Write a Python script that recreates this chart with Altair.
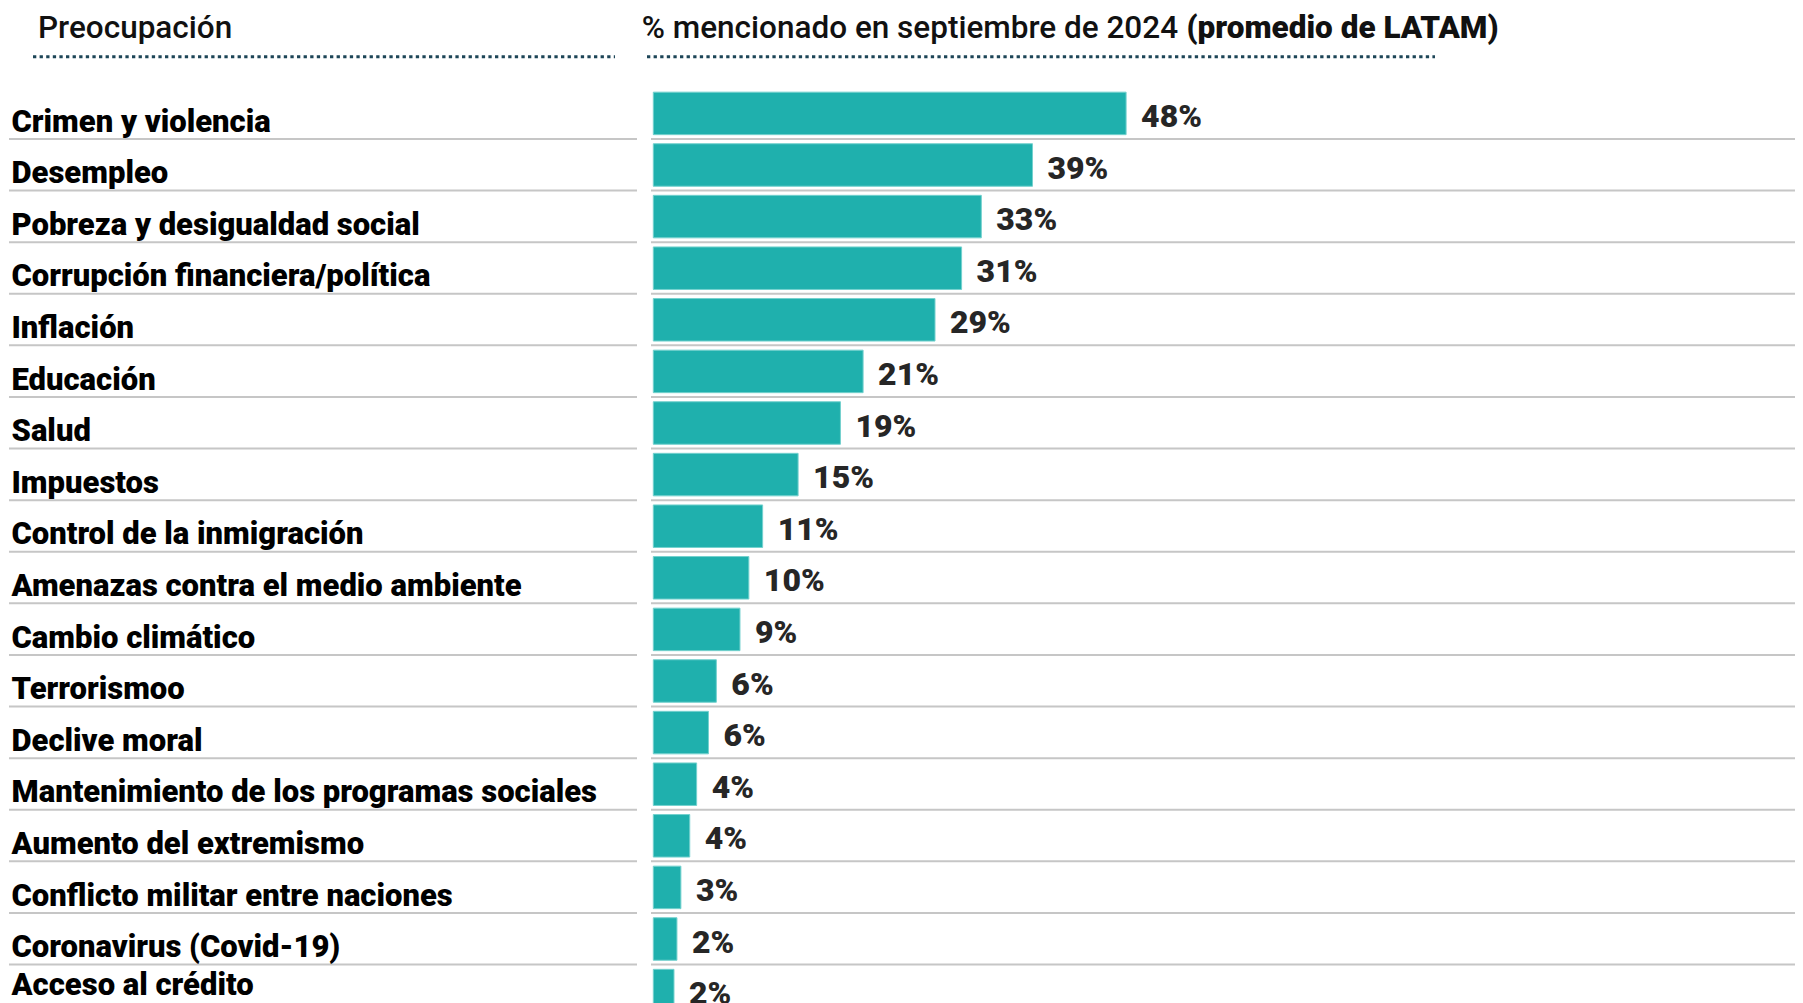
import altair as alt
import pandas as pd

categories = [
    "Crimen y violencia",
    "Desempleo",
    "Pobreza y desigualdad social",
    "Corrupción financiera/política",
    "Inflación",
    "Educación",
    "Salud",
    "Impuestos",
    "Control de la inmigración",
    "Amenazas contra el medio ambiente",
    "Cambio climático",
    "Terrorismoo",
    "Declive moral",
    "Mantenimiento de los programas sociales",
    "Aumento del extremismo",
    "Conflicto militar entre naciones",
    "Coronavirus (Covid-19)",
    "Acceso al crédito",
]
values = [48.0, 38.5, 33.3, 31.3, 28.6, 21.3, 19.0, 14.7, 11.1, 9.7, 8.8, 6.4, 5.6, 4.4, 3.7, 2.8, 2.4, 2.1]
value_labels = ["48%", "39%", "33%", "31%", "29%", "21%", "19%", "15%", "11%", "10%",
                "9%", "6%", "6%", "4%", "4%", "3%", "2%", "2%"]

header_left = ["Preocupación"]
header_right_regular = ["% mencionado en septiembre de 2024"]
header_right_bold = ["(promedio de LATAM)"]

df = pd.DataFrame({"cat": categories, "val": values, "lab": value_labels})
last_cat = categories[-1]

FONT = "Roboto"
STEP = 51.6
Y0 = 71.6
yscale = alt.Scale(domain=categories, range=[Y0, Y0 + STEP * len(categories)],
                   paddingInner=0.176, paddingOuter=0.088)
xscale = alt.Scale(domain=[0, 100], range=[645.3, 645.3 + 985])

base = alt.Chart(df)
ycat = alt.Y("cat:N", scale=yscale, axis=None, sort=categories)
ycat_end = alt.Y("cat:N", scale=yscale, axis=None, sort=categories, bandPosition=1)

bars = base.mark_bar(color="#1fb0ad", stroke="#74d1ce", strokeWidth=1, clip=True).encode(
    x=alt.X("val:Q", scale=xscale, axis=None),
    y=ycat,
)

rules_left = base.mark_rule(color="#c6c6c6", strokeWidth=2, yOffset=4.3, clip=True).encode(
    y=ycat_end, x=alt.value(1), x2=alt.value(629)
)
rules_right = base.mark_rule(color="#c6c6c6", strokeWidth=2, yOffset=4.3, clip=True).encode(
    y=ycat_end, x=alt.value(643), x2=alt.value(1787)
)

name_style = dict(align="left", baseline="alphabetic", font=FONT, fontWeight=900,
                  fontSize=31, color="#000000")
names = base.transform_filter(alt.datum.cat != last_cat).mark_text(dy=-3, **name_style).encode(
    x=alt.value(3.5), y=ycat_end, text="cat:N"
)
name_last = base.transform_filter(alt.datum.cat == last_cat).mark_text(dy=-16.5, **name_style).encode(
    x=alt.value(3.5), y=ycat_end, text="cat:N"
)

vals = base.mark_text(align="left", baseline="alphabetic", font=FONT, fontWeight=900,
                      fontSize=32, color="#262626", dx=15, dy=-7.6, clip=True).encode(
    x=alt.X("val:Q", scale=xscale, axis=None), y=ycat_end, text="lab:N"
)

HEAD_Y = 22
h1 = alt.Chart(pd.DataFrame({"t": header_left})).mark_text(
    align="left", baseline="alphabetic", font=FONT, fontWeight=500, fontSize=31.5, color="#111111"
).encode(x=alt.value(30), y=alt.value(HEAD_Y), text="t:N")

h2 = alt.Chart(pd.DataFrame({"t": header_right_regular})).mark_text(
    align="left", baseline="alphabetic", font=FONT, fontWeight=500, fontSize=31.5, color="#111111"
).encode(x=alt.value(633.7), y=alt.value(HEAD_Y), text="t:N")

h3 = alt.Chart(pd.DataFrame({"t": header_right_bold})).mark_text(
    align="left", baseline="alphabetic", font=FONT, fontWeight=900, fontSize=31.5, color="#111111"
).encode(x=alt.value(1178.5), y=alt.value(HEAD_Y), text="t:N")

one = alt.Chart(pd.DataFrame({"a": [0]}))
dot1 = one.mark_rule(color="#1d4557", strokeWidth=3, strokeDash=[3.3, 3.3]).encode(
    x=alt.value(25), x2=alt.value(607), y=alt.value(40.7)
)
dot2 = one.mark_rule(color="#1d4557", strokeWidth=3, strokeDash=[3.3, 3.3]).encode(
    x=alt.value(639), x2=alt.value(1427), y=alt.value(40.7)
)

chart = alt.layer(rules_left, rules_right, bars, names, name_last, vals, h1, h2, h3, dot1, dot2).properties(
    width=1787, height=987, autosize=alt.AutoSizeParams(type="none"),
    padding={"top": 8, "left": 0, "right": 0, "bottom": 0}
).configure_view(stroke=None)

chart.save("out.html", embed_options={"renderer": "svg", "actions": False})
